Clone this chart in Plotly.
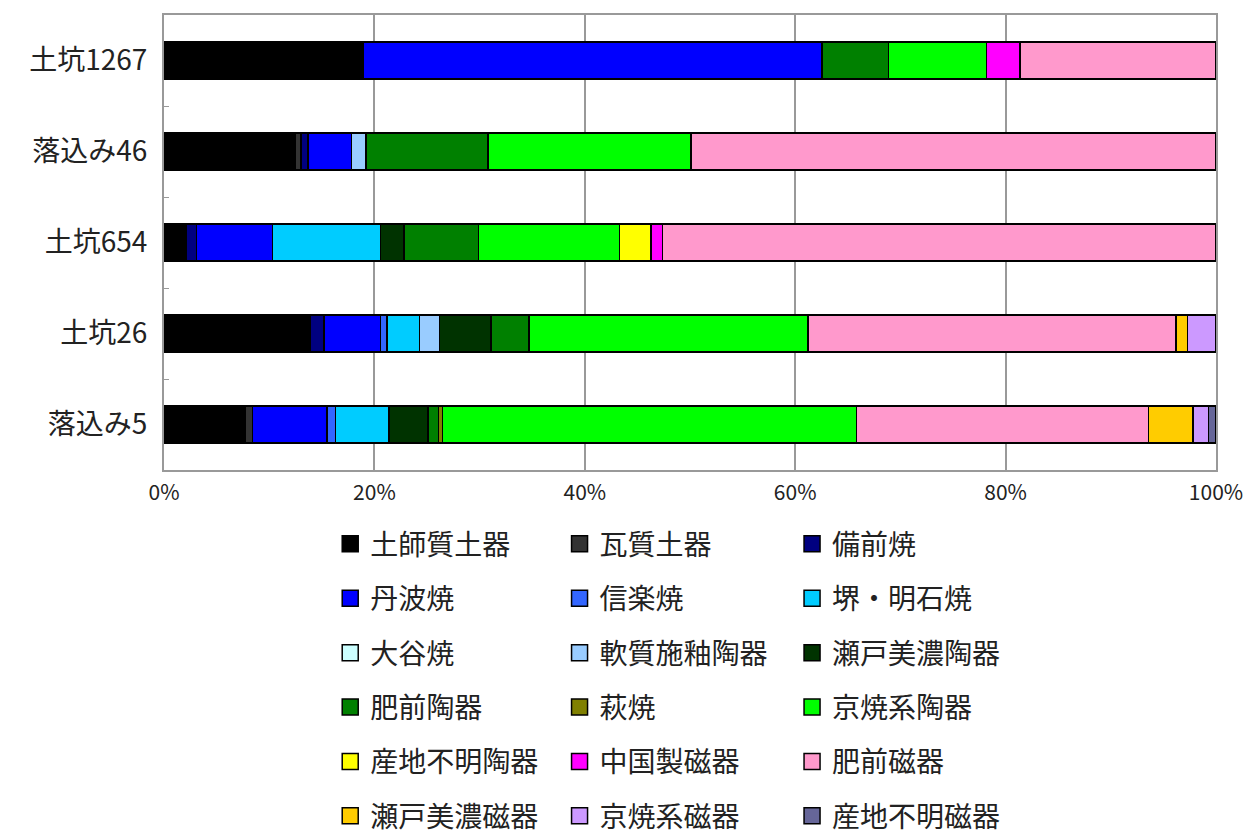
import plotly.graph_objects as go

# features (top to bottom) and ware types, values in %
features = ["土坑1267", "落込み46", "土坑654", "土坑26", "落込み5"]

ware_names = [
    "土師質土器", "瓦質土器", "備前焼",
    "丹波焼", "信楽焼", "堺・明石焼",
    "大谷焼", "軟質施釉陶器", "瀬戸美濃陶器",
    "肥前陶器", "萩焼", "京焼系陶器",
    "産地不明陶器", "中国製磁器", "肥前磁器",
    "瀬戸美濃磁器", "京焼系磁器", "産地不明磁器",
]

ware_colors = [
    "#000000", "#333333", "#000080",
    "#0000ff", "#3366ff", "#00ccff",
    "#ccffff", "#99ccff", "#003300",
    "#008000", "#808000", "#00ff00",
    "#ffff00", "#ff00ff", "#ff99cc",
    "#ffcc00", "#cc99ff", "#666699",
]

hajishitsu = [18.9, 12.5, 2.1, 13.9, 7.7]
gashitsu = [None, 0.5, None, None, 0.7]
bizen = [None, 0.7, 1.0, 1.3, None]
tamba = [43.6, 4.1, 7.2, 5.4, 7.1]
shigaraki = [None, None, None, 0.6, 0.8]
sakai_akashi = [None, None, 10.3, 3.1, 5.1]
otani = [None, None, None, None, None]
nanshitsu = [None, 1.4, None, 1.9, None]
seto_mino_toki = [None, None, 2.2, 4.9, 3.7]
hizen_toki = [6.3, 11.6, 7.1, 3.6, 1.0]
hagi = [None, None, None, None, 0.4]
kyo_toki = [9.3, 19.3, 13.4, 26.5, 39.4]
unknown_toki = [None, None, 3.0, None, None]
chinese_jiki = [3.2, None, 1.1, None, None]
hizen_jiki = [18.6, 49.9, 52.6, 35.0, 27.8]
seto_mino_jiki = [None, None, None, 1.1, 4.2]
kyo_jiki = [None, None, None, 2.7, 1.5]
unknown_jiki = [None, None, None, None, 0.7]

ware_values = [
    hajishitsu, gashitsu, bizen,
    tamba, shigaraki, sakai_akashi,
    otani, nanshitsu, seto_mino_toki,
    hizen_toki, hagi, kyo_toki,
    unknown_toki, chinese_jiki, hizen_jiki,
    seto_mino_jiki, kyo_jiki, unknown_jiki,
]

FONT = "Noto Sans CJK JP, Noto Sans, sans-serif"
legend_ids = ["legend", "legend2", "legend3"]

fig = go.Figure()
for name, color, vals in zip(ware_names, ware_colors, ware_values):
    fig.add_trace(
        go.Bar(
            y=features,
            x=vals,
            orientation="h",
            name=name,
            marker=dict(color=color, line=dict(color="#000000", width=1.5)),
            showlegend=False,
        )
    )

# legend entries with bigger square swatches, laid out as 3 columns
for i, (name, color) in enumerate(zip(ware_names, ware_colors)):
    fig.add_trace(
        go.Scatter(
            x=[None],
            y=[None],
            mode="markers",
            name=name,
            marker=dict(symbol="square", size=16, color=color,
                        line=dict(color="#000000", width=1.5)),
            legend=legend_ids[i % 3],
            legendgroup=name,
            showlegend=True,
        )
    )

legend_common = dict(
    orientation="v",
    yanchor="top",
    y=-0.108,
    xanchor="left",
    font=dict(family=FONT, size=28, color="#222222"),
    bgcolor="rgba(0,0,0,0)",
    tracegroupgap=15,
    itemclick=False,
)

fig.update_layout(
    width=1243,
    height=839,
    barmode="stack",
    barnorm="percent",
    bargap=0.59,
    plot_bgcolor="#ffffff",
    paper_bgcolor="#ffffff",
    font=dict(family=FONT, color="#222222"),
    margin=dict(l=164, r=27, t=15, b=369, autoexpand=False),
    legend=dict(legend_common, x=0.158),
    legend2=dict(legend_common, x=0.376),
    legend3=dict(legend_common, x=0.597),
    xaxis=dict(
        range=[0, 100],
        dtick=20,
        ticksuffix="%",
        showgrid=True,
        gridcolor="#999999",
        gridwidth=1.5,
        showline=True,
        linecolor="#999999",
        linewidth=2,
        mirror=True,
        ticks="",
        zeroline=False,
        ticklabelstandoff=3,
        ticklabeloverflow="allow",
        tickfont=dict(family=FONT, size=21, color="#222222"),
    ),
    yaxis=dict(
        categoryorder="array",
        categoryarray=features[::-1],
        showgrid=False,
        showline=True,
        linecolor="#999999",
        linewidth=2,
        mirror=True,
        ticks="inside",
        ticklen=5,
        tickcolor="#999999",
        tickson="boundaries",
        ticklabelstandoff=9,
        tickfont=dict(family=FONT, size=28, color="#222222"),
    ),
)

# drop the default 8px body margin so the figure fills the window exactly
fig.write_html(
    "out.html",
    config={"displayModeBar": False},
    post_script="document.body.style.margin='0';",
)
